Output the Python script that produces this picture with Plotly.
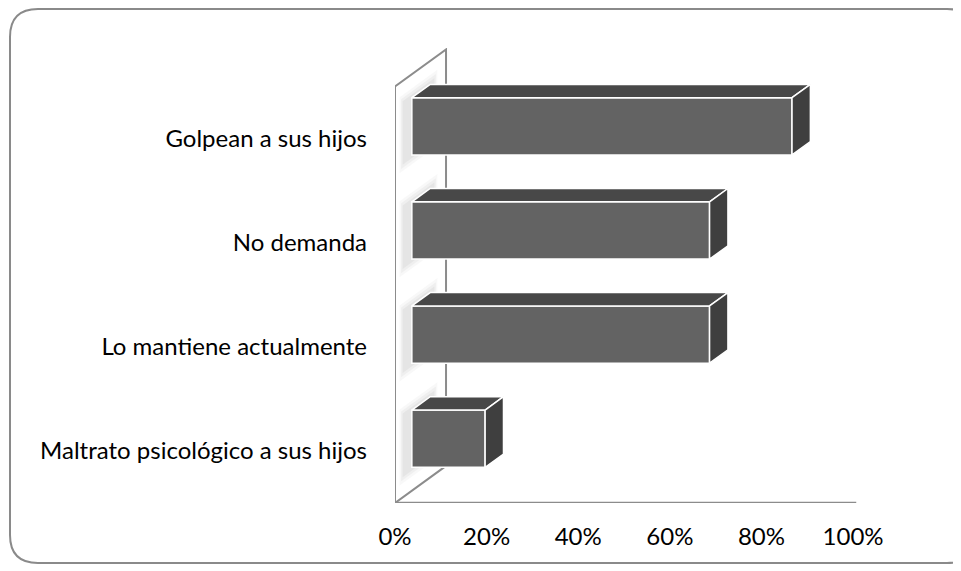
import plotly.graph_objects as go

# ---------------- data ----------------
categories = ["Maltrato psicológico a sus hijos", "Lo mantiene actualmente",
              "No demanda", "Golpean a sus hijos"]          # bottom -> top
values = [0.16, 0.65, 0.65, 0.83]
tick_vals = [0, 0.2, 0.4, 0.6, 0.8, 1.0]
tick_text = ["0%", "20%", "40%", "60%", "80%", "100%"]

# ---------------- style / 3D projection ----------------
DX, DY = 0.1114, 0.356      # depth vector in data units
D1, D2 = 0.33, 0.69         # bar depth extent (fraction of total depth)
HALF = 0.275                # half bar thickness (category units)
FRONT, TOP, SIDE = "#636363", "#484848", "#3f3f3f"
WALL = "#8c8c8c"
FONT = "Lato"

W, H = 961, 571
OFF = 8                      # page body margin
PL, PR, PT, PB = 395 - OFF, 908 - OFF, 48 - OFF, 503 - OFF
XR = [0, 1.12]
YR = [-0.5, 3.87]

fig = go.Figure()

def poly_path(xs, ys):
    return "M " + " L ".join(f"{x},{y}" for x, y in zip(xs, ys)) + " Z"

def poly(xs, ys, fill):
    fig.add_trace(go.Scatter(x=xs + [xs[0]], y=ys + [ys[0]], mode="lines",
                             fill="toself", fillcolor=fill,
                             line=dict(color="white", width=1.5),
                             hoverinfo="skip", showlegend=False))

n = len(categories)

# soft shadows of bars on the side wall (below traces)
for i in range(n):
    for grow, alpha in [(0.09, 0.05), (0.06, 0.06), (0.03, 0.08)]:
        dA, dB = max(0.05, D1 - 0.15 - grow), min(0.95, D2 + 0.05 + grow)
        y0, y1 = i - HALF - grow, i + HALF + grow
        xs = [dA * DX, dB * DX, dB * DX, dA * DX]
        ys = [y0 + dA * DY, y0 + dB * DY, y1 + dB * DY, y1 + dA * DY]
        fig.add_shape(type="path", path=poly_path(xs, ys), xref="x", yref="y",
                      fillcolor=f"rgba(110,110,110,{alpha})",
                      line=dict(width=0), layer="below")

# wall outline (left wall) and floor front edge
fig.add_shape(type="path", xref="x", yref="y", layer="below",
              path=poly_path([0, 0, DX, DX], [-0.5, 3.5, 3.5 + DY, -0.5 + DY]),
              line=dict(color=WALL, width=2))
fig.add_shape(type="line", xref="x", yref="y", layer="below",
              x0=0, x1=1.007, y0=-0.5, y1=-0.5,
              line=dict(color=WALL, width=2.5))

# top and side faces of the bars
ddx, ddy = (D2 - D1) * DX, (D2 - D1) * DY
b0 = D1 * DX
for i, v in enumerate(values):
    yc = i + D1 * DY
    yt, yb = yc + HALF, yc - HALF
    xe = b0 + v
    poly([b0, xe, xe + ddx, b0 + ddx], [yt, yt, yt + ddy, yt + ddy], TOP)
    poly([xe, xe, xe + ddx, xe + ddx], [yt, yb, yb + ddy, yt + ddy], SIDE)

# front faces
fig.add_trace(go.Bar(orientation="h", x=values,
                     y=[i + D1 * DY for i in range(n)],
                     base=b0, width=2 * HALF,
                     marker=dict(color=FRONT, line=dict(color="white", width=1.5)),
                     hoverinfo="skip", showlegend=False))

# rounded chart border (pixel -> paper)
def fx(p): return (p - OFF - PL) / (PR - PL)
def fy(p): return (PB - (p - OFF)) / (PB - PT)
L, T, R, B, r = 10, 9, 975, 563, 28
path = (f"M {fx(L)},{fy(T + r)} Q {fx(L)},{fy(T)} {fx(L + r)},{fy(T)} "
        f"L {fx(R - r)},{fy(T)} Q {fx(R)},{fy(T)} {fx(R)},{fy(T + r)} "
        f"L {fx(R)},{fy(B - r)} Q {fx(R)},{fy(B)} {fx(R - r)},{fy(B)} "
        f"L {fx(L + r)},{fy(B)} Q {fx(L)},{fy(B)} {fx(L)},{fy(B - r)} Z")
fig.add_shape(type="path", path=path, xref="paper", yref="paper",
              line=dict(color="#8a8a8a", width=2), layer="below")

fig.update_layout(
    width=W, height=H, autosize=False,
    margin=dict(l=PL, r=W - PR, t=PT, b=H - PB, pad=0),
    paper_bgcolor="white", plot_bgcolor="white",
    barmode="overlay",
    xaxis=dict(range=XR, tickvals=tick_vals, ticktext=tick_text,
               showgrid=False, zeroline=False, showline=False,
               ticks="", ticklabelstandoff=17, automargin=False,
               tickfont=dict(family=FONT, size=24, color="black")),
    yaxis=dict(range=YR, tickvals=list(range(n)), ticktext=categories,
               showgrid=False, zeroline=False, showline=False,
               ticks="", ticklabelstandoff=27, automargin=False,
               tickfont=dict(family=FONT, size=24, color="black")),
)

fig.write_html("out.html")
